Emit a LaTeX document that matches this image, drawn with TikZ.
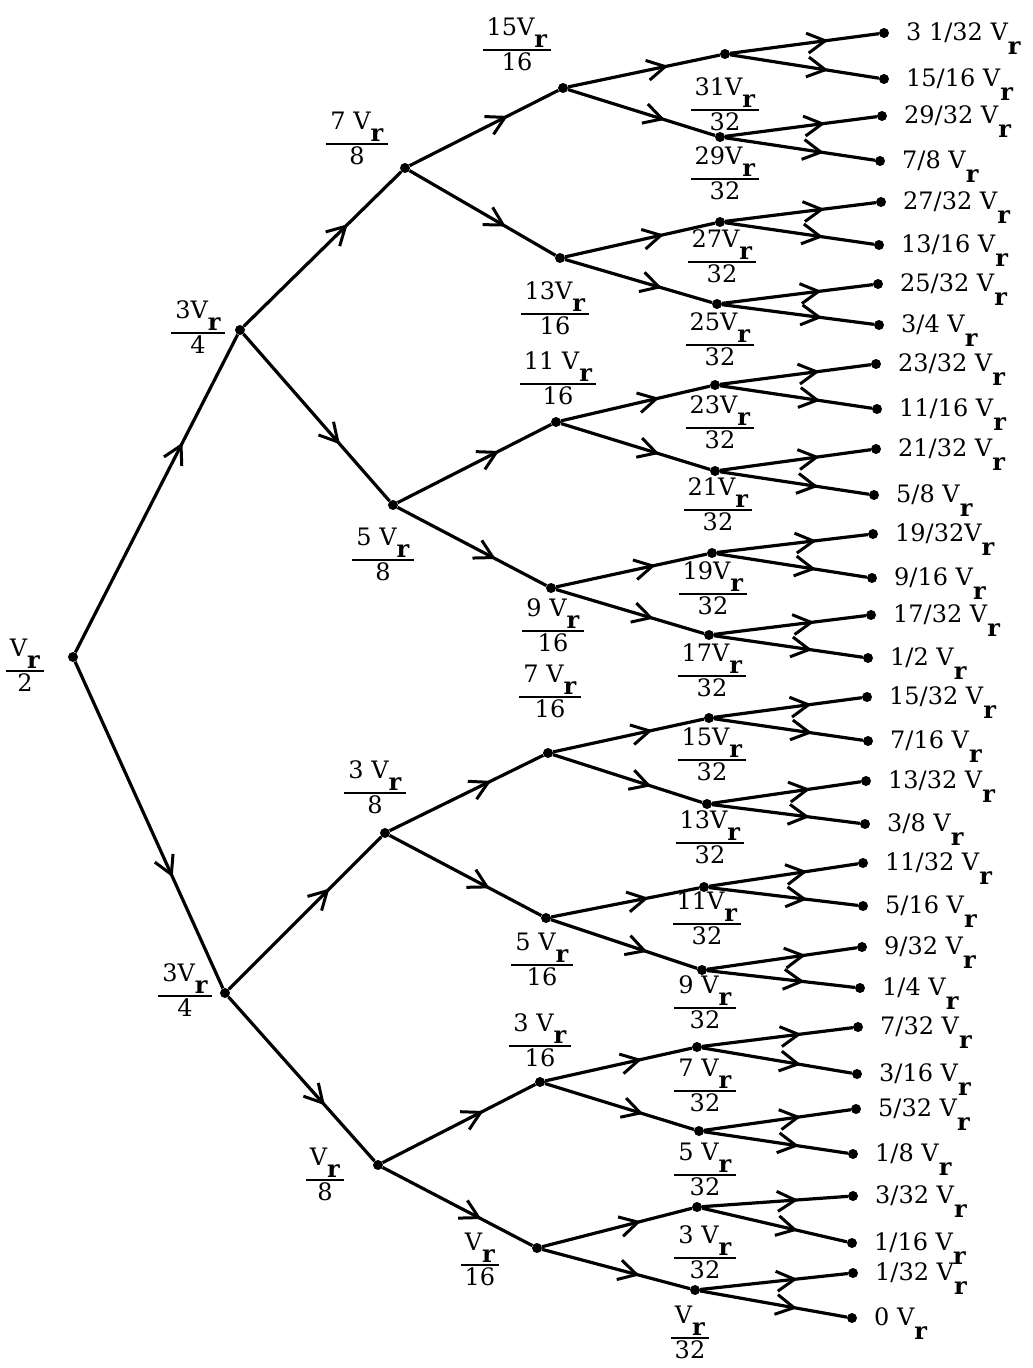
\documentclass[tikz,border=0pt]{standalone}
\usepackage{fontspec}
\setmainfont{DejaVu Serif}
\usepackage{tikz}
\usetikzlibrary{arrows.meta, decorations.markings}

% pedice r abbassato (frazioni interne e valori finali)
\newcommand{\Rr}{\raisebox{-0.5em}{\textbf{r}}}
\newcommand{\Rf}{\raisebox{-0.62em}{\textbf{r}}}
\newcommand{\frazione}[2]{\begin{tabular}{@{\,}c@{\,}}#1\\[5pt]\hline #2\end{tabular}}
\setlength{\arrayrulewidth}{2pt}

\begin{document}
\begin{tikzpicture}[x=1pt, y=-1pt, font=\fontsize{24}{28}\selectfont,
    punto/.style={circle, fill=black, inner sep=0pt, minimum size=10pt},
    etichetta/.style={inner sep=0pt},
    ramo/.style={line width=3.2pt, postaction={decorate},
        decoration={markings, mark=at position 0.66 with
            {\arrow{Straight Barb[length=18pt, width=20pt, line width=3pt]}}}}]
    \useasboundingbox (0,0) rectangle (1033,1368);

    % Nodi interni dell'albero (tensioni di confronto)
    \foreach \nome/\x/\y in {p/73/657, a1/240/330, a0/225/993,
        b3/405/168, b2/393/505, b1/385/833, b0/378/1165,
        c7/563/88, c6/560/258, c5/556/422, c4/551/588,
        c3/548/753, c2/546/918, c1/540/1082, c0/537/1248,
        d15/725/54, d14/720/137, d13/720/222, d12/717/304,
        d11/715/385, d10/715/471, d9/712/553, d8/709/635,
        d7/709/718, d6/707/804, d5/704/887, d4/702/970,
        d3/697/1047, d2/699/1131, d1/697/1207, d0/695/1290}
        \node[punto] (\nome) at (\x,\y) {};

    % Foglie con i valori finali
    \foreach \i/\x/\y/\testo in {31/884/33/{3 1/32 V}, 30/884/79/{15/16 V},
        29/882/116/{29/32 V}, 28/880/161/{7/8 V}, 27/881/202/{27/32 V},
        26/879/245/{13/16 V}, 25/878/284/{25/32 V}, 24/879/325/{3/4 V},
        23/876/364/{23/32 V}, 22/877/409/{11/16 V}, 21/876/449/{21/32 V},
        20/874/495/{5/8 V}, 19/873/534/{19/32V}, 18/872/578/{9/16 V},
        17/871/615/{17/32 V}, 16/868/658/{1/2 V}, 15/867/697/{15/32 V},
        14/868/741/{7/16 V}, 13/866/781/{13/32 V}, 12/865/824/{3/8 V},
        11/863/863/{11/32 V}, 10/863/906/{5/16 V}, 9/862/947/{9/32 V},
        8/860/988/{1/4 V}, 7/858/1027/{7/32 V}, 6/857/1074/{3/16 V},
        5/856/1109/{5/32 V}, 4/853/1154/{1/8 V}, 3/853/1196/{3/32 V},
        2/852/1243/{1/16 V}, 1/853/1273/{1/32 V}, 0/852/1318/{0 V}} {
        \node[punto] (f\i) at (\x,\y) {};
        \node[etichetta, anchor=base west] (t\i) at ([xshift=22pt, yshift=-7pt]f\i.center) {\testo\Rf};
    }

    % Rami: il nodo i porta ai nodi 2i+1 (sopra) e 2i (sotto)
    \draw[ramo] (p) -- (a1);
    \draw[ramo] (p) -- (a0);
    \foreach \pa/\fg/\n in {a/b/1, b/c/3, c/d/7, d/f/15} {
        \foreach \i in {0,...,\n} {
            \pgfmathtruncatemacro{\su}{2*\i+1}
            \pgfmathtruncatemacro{\giu}{2*\i}
            \draw[ramo] (\pa\i) -- (\fg\su);
            \draw[ramo] (\pa\i) -- (\fg\giu);
        }
    }

    % Frazioni accanto ai nodi
    \foreach \nome/\x/\y/\num/\den in {p/25/668/V/2, a1/198/330/3V/4, a0/185/993/3V/4,
        b3/357/141/7 V/8, b2/383/557/5 V/8, b1/375/790/3 V/8, b0/325/1177/V/8,
        c7/517/47/15V/16, c6/555/311/13V/16, c5/558/381/11 V/16, c4/553/628/9 V/16,
        c3/550/694/7 V/16, c2/542/962/5 V/16, c1/540/1043/3 V/16, c0/480/1262/V/16,
        d15/725/107/31V/32, d14/725/176/29V/32, d13/722/259/27V/32, d12/720/342/25V/32,
        d11/720/425/23V/32, d10/718/507/21V/32, d9/713/591/19V/32, d8/712/673/17V/32,
        d7/712/757/15V/32, d6/710/840/13V/32, d5/707/921/11V/32, d4/705/1005/9 V/32,
        d3/705/1088/7 V/32, d2/705/1172/5 V/32, d1/705/1255/3 V/32, d0/690/1335/V/32}
        \node[etichetta] (l\nome) at (\x,\y) {\frazione{\num\Rr}{\den}};
\end{tikzpicture}
\end{document}
